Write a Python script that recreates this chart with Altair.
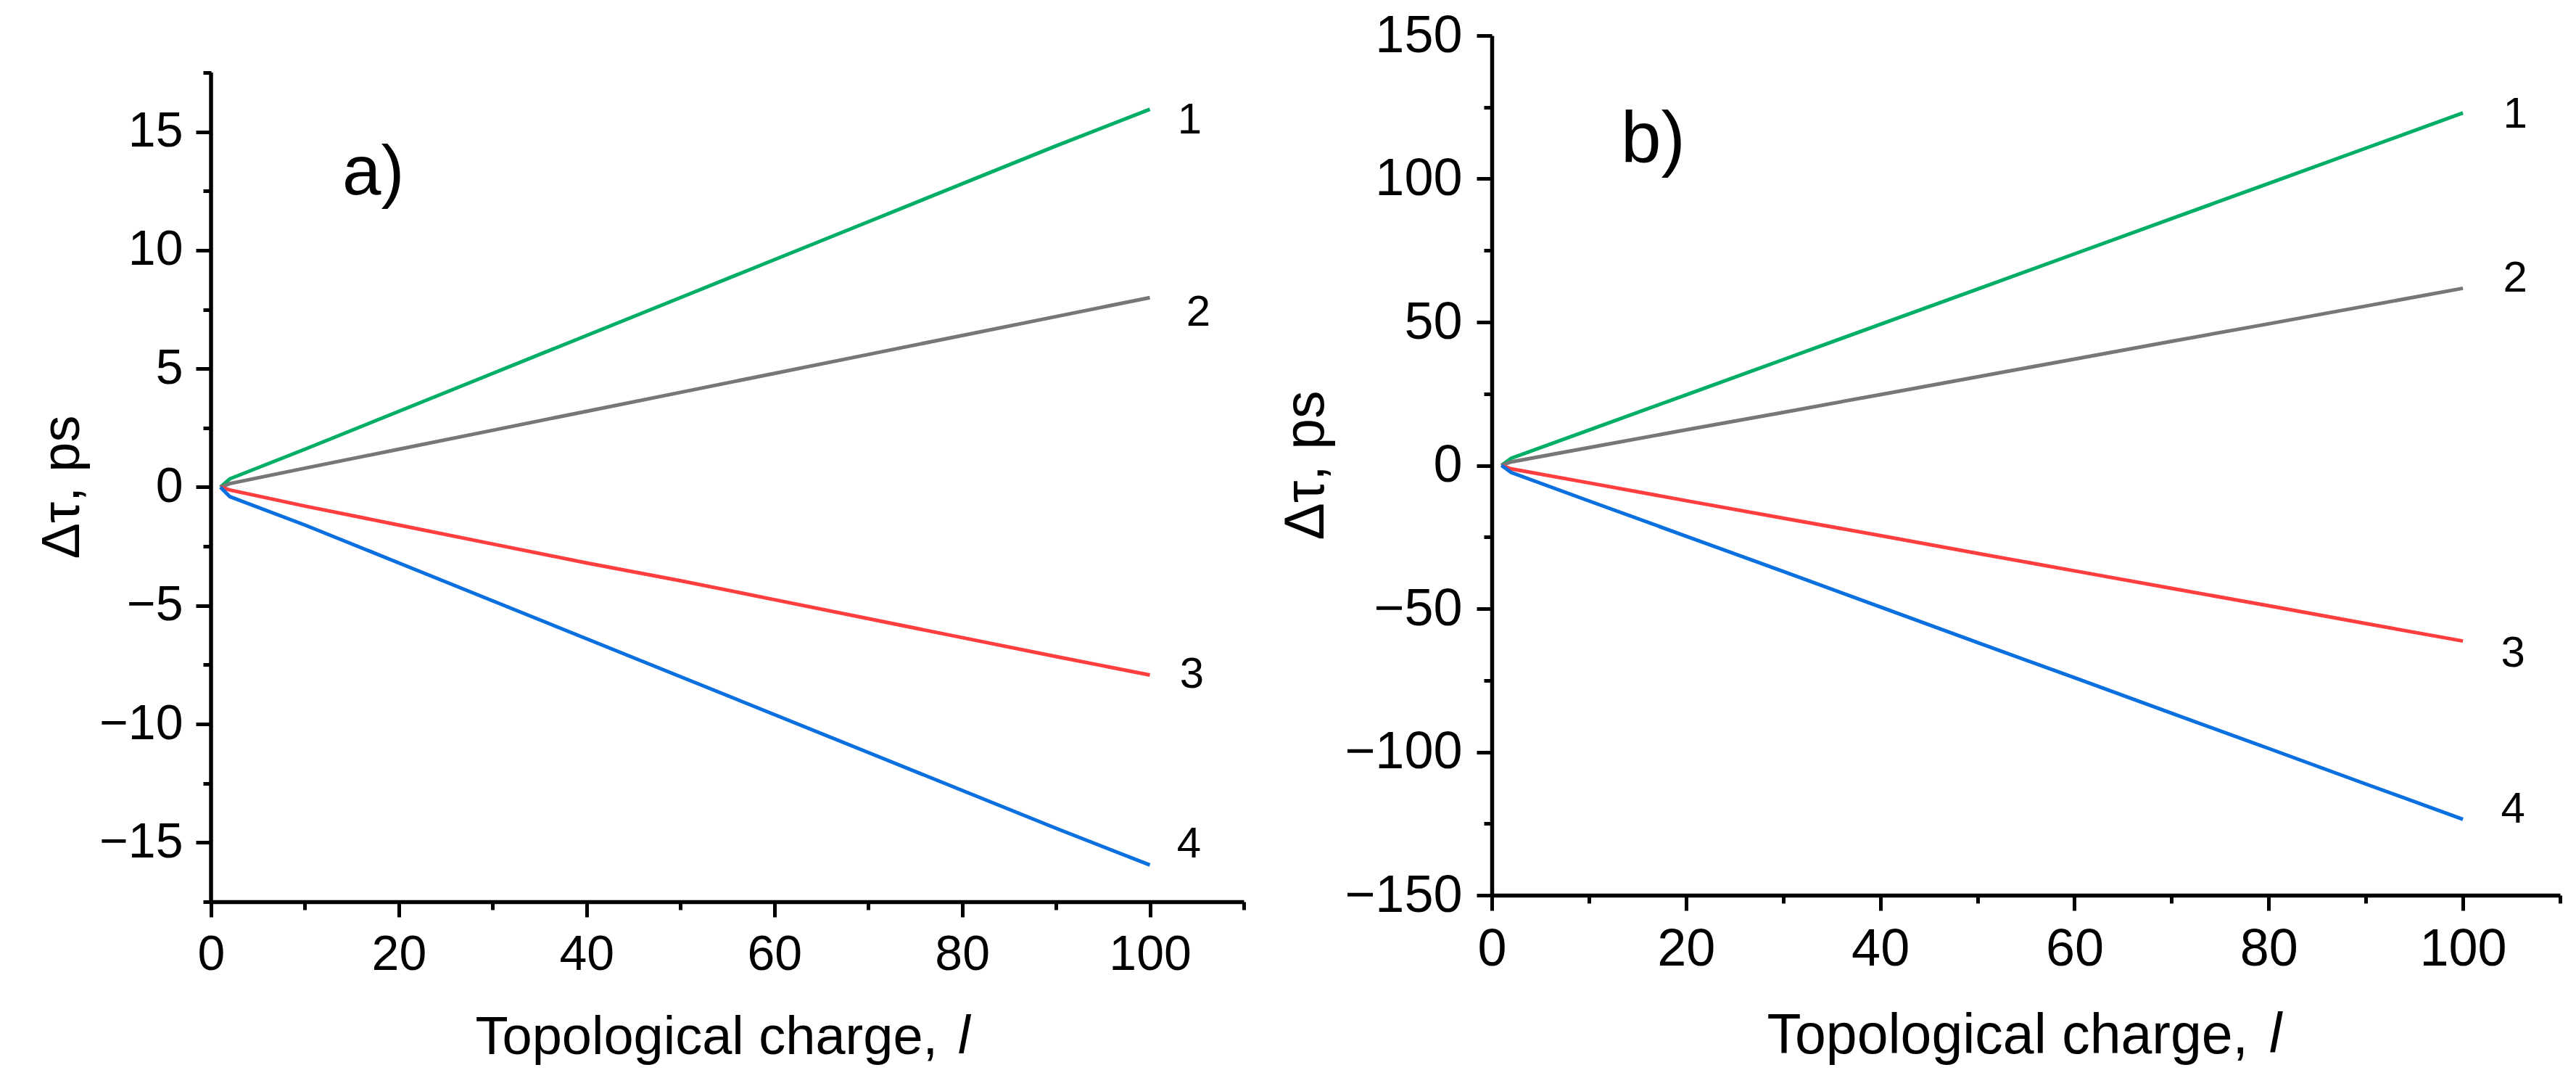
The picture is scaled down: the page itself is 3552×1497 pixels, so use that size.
#%%
import pandas as pd
import altair as alt

#%% data
charge = [1, 2, 10, 20, 30, 40, 50, 60, 70, 80, 90, 100]
curves = ["1", "2", "3", "4"]
colors = ["#00AE66", "#777777", "#FF3F3F", "#0A70E0"]

# panel a)
a_1 = [0, 0.35, 1.6, 3.2, 4.8, 6.4, 8.0, 9.6, 11.2, 12.8, 14.4, 15.95]
a_2 = [0, 0.15, 0.8, 1.6, 2.4, 3.2, 4.0, 4.8, 5.6, 6.4, 7.2, 8.0]
a_3 = [0, -0.12, -0.8, -1.6, -2.4, -3.2, -3.95, -4.75, -5.55, -6.35, -7.15, -7.93]
a_4 = [0, -0.4, -1.6, -3.2, -4.8, -6.4, -8.0, -9.6, -11.2, -12.8, -14.4, -15.95]

# panel b)
b_1 = [0, 2.5, 12.3, 24.6, 36.9, 49.2, 61.5, 73.8, 86.1, 98.4, 110.7, 123.0]
b_2 = [0, 1.2, 6.2, 12.4, 18.5, 24.7, 30.9, 37.1, 43.3, 49.4, 55.6, 61.8]
b_3 = [0, -1.2, -6.1, -12.3, -18.4, -24.5, -30.7, -36.8, -42.9, -49.0, -55.2, -61.3]
b_4 = [0, -2.5, -12.4, -24.7, -37.0, -49.4, -61.8, -74.1, -86.5, -98.8, -111.2, -123.5]

x_major = [0, 20, 40, 60, 80, 100]
x_minor = [10, 30, 50, 70, 90, 110]
a_range = [-17.5, 17.5]
a_major = [-15, -10, -5, 0, 5, 10, 15]
a_minor = [-17.5, -12.5, -7.5, -2.5, 2.5, 7.5, 12.5, 17.5]
b_range = [-150, 150]
b_major = [-150, -100, -50, 0, 50, 100, 150]
b_minor = [-125, -75, -25, 25, 75, 125]

FONT = "Liberation Sans"


#%% one panel
def panel(vals, yrange, ytop, ymajor, yminor, w, h, fs_tick, fs_title, ypad,
          xtitle_pos, ytitle_pos, l_pos, letter, letter_pos, fs_letter,
          offsets):
    df = pd.DataFrame({
        "l": charge * 4,
        "dt": sum(vals, []),
        "curve": [c for c in curves for _ in charge],
    })
    own_domain = ytop == yrange[1]
    xs = alt.Scale(domain=[0, 110], nice=False, zero=False)
    ys = alt.Scale(domain=[yrange[0], ytop], nice=False, zero=False)

    lines = (alt.Chart(df)
        .mark_line(strokeWidth=5)
        .encode(
            x=alt.X("l:Q", scale=xs, axis=alt.Axis(
                values=x_major, tickSize=21, labelFontSize=fs_tick,
                labelPadding=18, labelFlush=False, orient="bottom",
                title="Topological charge,", titleFontSize=fs_title,
                titleX=xtitle_pos[0], titleY=xtitle_pos[1],
                titleAlign="left", titleBaseline="alphabetic")),
            y=alt.Y("dt:Q", scale=ys, axis=alt.Axis(
                values=ymajor, tickSize=21, labelFontSize=fs_tick,
                labelPadding=ypad, orient="left", domain=own_domain,
                title="Δτ, ps", titleFontSize=fs_title,
                titleX=ytitle_pos[0], titleY=ytitle_pos[1],
                titleAlign="center", titleBaseline="alphabetic")),
            color=alt.Color("curve:N", scale=alt.Scale(domain=curves, range=colors),
                            legend=None),
        )
    )

    minor = (alt.Chart(df)
        .mark_point(opacity=0)
        .encode(
            x=alt.X("l:Q", scale=xs, axis=alt.Axis(
                values=x_minor, tickSize=11, labels=False, domain=False,
                orient="bottom", title=None)),
            y=alt.Y("dt:Q", scale=ys, axis=alt.Axis(
                values=yminor, tickSize=11, labels=False, domain=False,
                orient="left", title=None)),
        )
    )

    layers = [lines, minor]
    tiny = pd.DataFrame({"z": [0]})

    if not own_domain:
        # y axis line only over the labelled range
        layers.append(
            alt.Chart(tiny)
            .mark_rule(color="black", strokeWidth=5.5)
            .encode(
                x=alt.value(0),
                y=alt.Y(datum=yrange[1], scale=ys, axis=None),
                y2=alt.Y2(datum=yrange[0]),
            )
        )

    # curve numbers next to the line ends
    ends = df[df["l"] == charge[-1]]
    for c, (dx, dy) in zip(curves, offsets):
        layers.append(
            alt.Chart(ends[ends["curve"] == c])
            .mark_text(font=FONT, fontSize=60, color="black", dx=dx, dy=dy,
                       align="center", baseline="middle")
            .encode(
                x=alt.X("l:Q", scale=xs, axis=None),
                y=alt.Y("dt:Q", scale=ys, axis=None),
                text="curve:N",
            )
        )

    layers.append(
        alt.Chart(tiny)
        .mark_text(text=letter, font=FONT, fontSize=fs_letter, color="black",
                   align="left", baseline="alphabetic")
        .encode(x=alt.value(letter_pos[0]), y=alt.value(letter_pos[1]))
    )
    layers.append(
        alt.Chart(tiny)
        .mark_text(text="l", font=FONT, fontSize=fs_title, fontStyle="italic",
                   color="black", align="left", baseline="alphabetic")
        .encode(x=alt.value(l_pos[0]), y=alt.value(l_pos[1]))
    )

    return (alt.layer(*layers)
        .resolve_axis(x="independent", y="independent")
        .properties(width=w, height=h)
    )


#%% panels
chart_a = panel([a_1, a_2, a_3, a_4], a_range, 19.06, a_major, a_minor,
                1424, 1194, 68, 74, 18,
                (364, 209), (-183, 622), (1030, 1403),
                "a)", (181, 219), 96,
                [(55, 15), (67, 21), (58, 0), (54, -28)])

chart_b = panel([b_1, b_2, b_3, b_4], b_range, 150, b_major, b_minor,
                1473, 1185, 72, 77, 20,
                (379, 217), (-233, 592), (1072, 1402),
                "b)", (178, 175), 100,
                [(72, 2), (72, -13), (69, 17), (69, -13)])

chart = (alt.hconcat(chart_a, chart_b, spacing=44)
    .properties(padding={"left": 41, "top": 5, "right": 5, "bottom": 5})
    .configure_view(strokeWidth=0)
    .configure_axis(
        grid=False, domainColor="black", domainWidth=5.5,
        tickColor="black", tickWidth=5, labelColor="black", titleColor="black",
        labelFont=FONT, titleFont=FONT, titleFontWeight="normal",
        labelOverlap=False,
    )
)

chart.save("out.html", embed_options={"renderer": "svg", "actions": False})
